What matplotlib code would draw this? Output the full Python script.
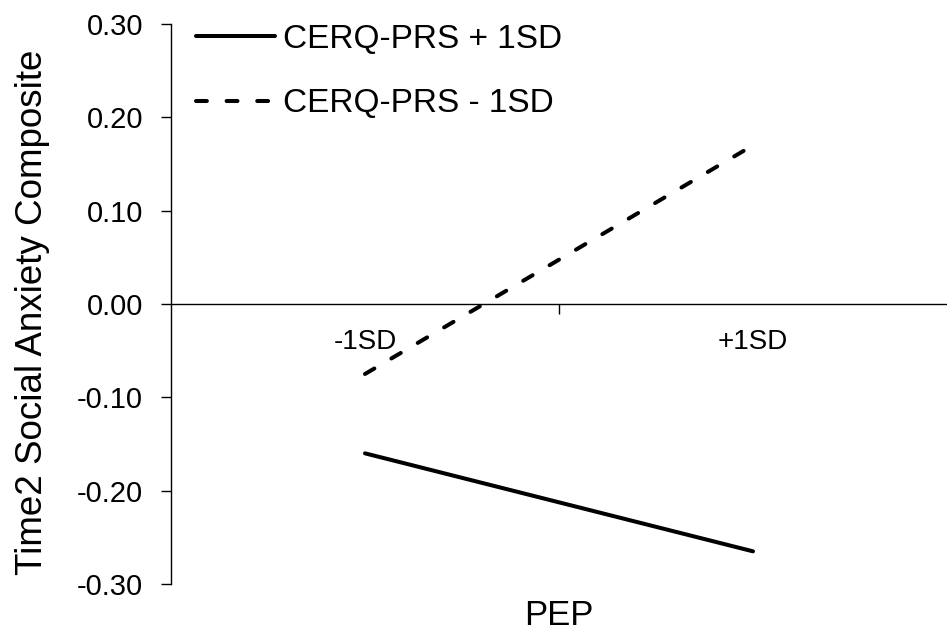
import matplotlib.pyplot as plt
from matplotlib.ticker import FixedLocator, NullFormatter

plt.rcParams['font.family'] = ['Liberation Sans', 'DejaVu Sans']

categories = ['-1SD', '+1SD']
high_prs = [-0.160, -0.265]   # CERQ-PRS + 1SD
low_prs = [-0.075, 0.170]     # CERQ-PRS - 1SD
y_ticks = [0.30, 0.20, 0.10, 0.00, -0.10, -0.20, -0.30]

fig = plt.figure(figsize=(9.47, 6.32), dpi=100)
ax = fig.add_axes([171 / 947, 1 - 584 / 632, 1 - 171 / 947, (584 - 24) / 632])

x = list(range(len(categories)))
ax.plot(x, high_prs, color='black', lw=2.9, solid_capstyle='round',
        label='CERQ-PRS + 1SD')
ax.plot(x, low_prs, color='black', lw=2.9, linestyle=(0, (2.7, 4.9)),
        dash_capstyle='round', label='CERQ-PRS - 1SD')

ax.set_xlim(-0.5, 1.5)
ax.set_ylim(-0.30, 0.30)

# axes styling: y spine on the left, x axis running through zero
for s in ['top', 'right']:
    ax.spines[s].set_visible(False)
ax.spines['bottom'].set_position(('data', 0))
ax.spines['left'].set_linewidth(1.0)
ax.spines['bottom'].set_linewidth(1.0)

ax.set_yticks(y_ticks)
ax.set_yticklabels([f'{v:.2f}' for v in y_ticks], fontsize=21)
ax.tick_params(axis='y', direction='out', length=7, width=1.0, pad=13)

# category boundary tick, labels sit at category centres
ax.xaxis.set_major_locator(FixedLocator([0.5]))
ax.xaxis.set_major_formatter(NullFormatter())
ax.xaxis.set_minor_locator(FixedLocator(x))
ax.set_xticklabels(categories, minor=True, fontsize=20)
ax.tick_params(axis='x', which='major', direction='out', length=7, width=1.0)
ax.tick_params(axis='x', which='minor', length=0, pad=18)

ax.set_ylabel('Time2 Social Anxiety Composite', fontsize=26.5)
ax.yaxis.set_label_coords(-0.156, 0.486)
ax.set_xlabel('PEP', fontsize=25)
ax.xaxis.set_label_coords(0.5, -0.027)

leg = ax.legend(loc='upper left', bbox_to_anchor=(0.032, 1.0), frameon=False,
                fontsize=24, handlelength=2.37, handletextpad=0.24,
                labelspacing=1.0, borderpad=0, borderaxespad=0)

fig.savefig('out.png', dpi=100)
